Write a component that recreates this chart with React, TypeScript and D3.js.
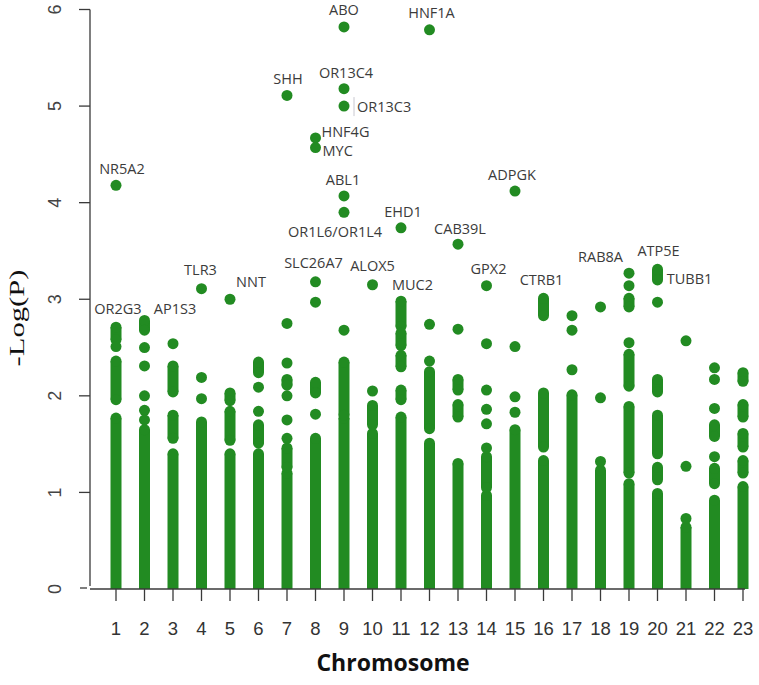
import React from 'react';
import * as d3 from 'd3';

// ---------------- data ----------------
const chromosomes = [1, 2, 3, 4, 5, 6, 7, 8, 9, 10, 11, 12, 13, 14, 15, 16, 17, 18, 19, 20, 21, 22, 23];
const yTicks = [0, 1, 2, 3, 4, 5, 6];

// top of the continuous (dense) column of SNPs for each chromosome
const denseTop = [1.77, 1.65, 1.40, 1.73, 1.40, 1.40, 1.20, 1.56, 1.77, 1.61, 1.78, 1.51, 1.30, 0.97, 1.65, 1.33, 2.01, 1.23, 1.09, 0.99, 0.64, 0.92, 1.06];

// semi-dense stretches: [chromosome, low, high]
const runs: [number, number, number][] = [
  [1, 2.58, 2.71], [1, 1.96, 2.36],
  [2, 2.68, 2.78],
  [3, 2.04, 2.31], [3, 1.56, 1.80],
  [5, 1.95, 2.03], [5, 1.54, 1.84],
  [6, 2.24, 2.35], [6, 1.51, 1.70],
  [7, 2.11, 2.17], [7, 1.26, 1.46],
  [8, 2.03, 2.14],
  [9, 1.80, 2.35],
  [10, 1.70, 1.90],
  [11, 2.72, 2.98], [11, 2.52, 2.65], [11, 2.30, 2.42], [11, 1.96, 2.06],
  [12, 1.66, 2.25],
  [13, 2.06, 2.17], [13, 1.78, 1.91],
  [14, 1.05, 1.37],
  [16, 2.83, 3.01], [16, 1.47, 2.03],
  [19, 2.92, 3.01], [19, 2.10, 2.43], [19, 1.20, 1.89],
  [20, 3.20, 3.31], [20, 2.04, 2.17], [20, 1.40, 1.80], [20, 1.13, 1.26],
  [22, 1.58, 1.70], [22, 1.09, 1.25],
  [23, 2.15, 2.24], [23, 1.78, 1.91], [23, 1.47, 1.61], [23, 1.20, 1.33],
];

// isolated points: [chromosome, -log(P)]
const points: [number, number][] = [
  [1, 4.18], [1, 2.51],
  [2, 2.50], [2, 2.31], [2, 2.00], [2, 1.85], [2, 1.75],
  [3, 2.54],
  [4, 3.11], [4, 2.19], [4, 1.97],
  [5, 3.00],
  [6, 2.09], [6, 1.84],
  [7, 5.11], [7, 2.75], [7, 2.34], [7, 2.00], [7, 1.75], [7, 1.56],
  [8, 4.67], [8, 4.57], [8, 3.18], [8, 2.97], [8, 1.81],
  [9, 5.82], [9, 5.18], [9, 5.00], [9, 4.07], [9, 3.90], [9, 2.68],
  [10, 3.15], [10, 2.05],
  [11, 3.74],
  [12, 5.79], [12, 2.74], [12, 2.36],
  [13, 3.57], [13, 2.69],
  [14, 3.14], [14, 2.54], [14, 2.06], [14, 1.86], [14, 1.71], [14, 1.46],
  [15, 4.12], [15, 2.51], [15, 1.99], [15, 1.83],
  [17, 2.83], [17, 2.68], [17, 2.27],
  [18, 2.92], [18, 1.98], [18, 1.32],
  [19, 3.27], [19, 3.14], [19, 2.55],
  [20, 2.97],
  [21, 2.57], [21, 1.27], [21, 0.73],
  [22, 2.29], [22, 2.17], [22, 1.87], [22, 1.37],
];

// gene annotations
const geneNames = ['NR5A2', 'OR2G3', 'AP1S3', 'TLR3', 'NNT', 'SHH', 'HNF4G', 'MYC', 'SLC26A7', 'ABO', 'OR13C4', 'OR13C3', 'ABL1', 'OR1L6/OR1L4', 'ALOX5', 'EHD1', 'MUC2', 'HNF1A', 'CAB39L', 'GPX2', 'ADPGK', 'CTRB1', 'RAB8A', 'ATP5E', 'TUBB1'];
const geneChr = [1, 1, 3, 4, 5, 7, 8, 8, 8, 9, 9, 9, 9, 9, 10, 11, 11, 12, 13, 14, 15, 16, 18, 20, 20];
const geneVal = [4.18, 2.71, 2.54, 3.11, 3.00, 5.11, 4.67, 4.57, 3.18, 5.82, 5.18, 5.00, 4.07, 3.90, 3.15, 3.74, 2.98, 5.79, 3.57, 3.14, 4.12, 3.01, 2.92, 3.31, 2.97];

// label placement relative to the labelled point (layout only)
const labelLayout: Record<string, { anchor: string; dx: number; dy: number }> = {
  'NR5A2': { anchor: 'middle', dx: 6, dy: -11 },
  'OR2G3': { anchor: 'middle', dx: 2, dy: -13 },
  'AP1S3': { anchor: 'middle', dx: 2, dy: -30 },
  'TLR3': { anchor: 'middle', dx: -1, dy: -14 },
  'NNT': { anchor: 'middle', dx: 21, dy: -12 },
  'SHH': { anchor: 'middle', dx: 1, dy: -11 },
  'HNF4G': { anchor: 'start', dx: 6, dy: -1 },
  'MYC': { anchor: 'start', dx: 7, dy: 8 },
  'SLC26A7': { anchor: 'middle', dx: -2, dy: -14 },
  'ABO': { anchor: 'middle', dx: 0, dy: -12 },
  'OR13C4': { anchor: 'middle', dx: 2, dy: -10.5 },
  'OR13C3': { anchor: 'start', dx: 13, dy: 6 },
  'ABL1': { anchor: 'middle', dx: -1, dy: -11 },
  'OR1L6/OR1L4': { anchor: 'middle', dx: -9, dy: 25 },
  'ALOX5': { anchor: 'middle', dx: 0, dy: -14 },
  'EHD1': { anchor: 'middle', dx: 2, dy: -11 },
  'MUC2': { anchor: 'start', dx: -9, dy: -11 },
  'HNF1A': { anchor: 'middle', dx: 2, dy: -11.5 },
  'CAB39L': { anchor: 'middle', dx: 2, dy: -10 },
  'GPX2': { anchor: 'middle', dx: 2, dy: -12 },
  'ADPGK': { anchor: 'middle', dx: -3, dy: -11 },
  'CTRB1': { anchor: 'middle', dx: -2, dy: -13 },
  'RAB8A': { anchor: 'middle', dx: 0, dy: -45 },
  'ATP5E': { anchor: 'middle', dx: 1, dy: -13 },
  'TUBB1': { anchor: 'middle', dx: 32, dy: -18 },
};

// ---------------- chart ----------------
const W = 759;
const H = 685;
const GREEN = '#228b22';
const R = 5.5;

export default function App() {
  const x = d3.scaleLinear().domain([1, 23]).range([116, 743]);
  const y = d3.scaleLinear().domain([0, 6]).range([589, 9.5]);
  const axisColor = '#3a3a3a';
  const axisX0 = 90;

  return (
    <svg width={W} height={H} style={{ position: 'absolute', left: 0, top: 0, background: '#fff' }}>
      <defs>
        <clipPath id="plotClip">
          <rect x={axisX0} y={0} width={W - axisX0} height={y(0)} />
        </clipPath>
      </defs>

      <g clipPath="url(#plotClip)" fill={GREEN}>
        {chromosomes.map((c, i) => (
          <g key={'d' + c}>
            <rect x={x(c) - R} y={y(denseTop[i])} width={2 * R} height={y(0) - y(denseTop[i]) + R} />
            <circle cx={x(c)} cy={y(denseTop[i])} r={R} />
          </g>
        ))}
        {runs.map(([c, lo, hi], i) => (
          <g key={'r' + i}>
            <rect x={x(c) - R} y={y(hi)} width={2 * R} height={y(lo) - y(hi)} />
            <circle cx={x(c)} cy={y(hi)} r={R} />
            <circle cx={x(c)} cy={y(lo)} r={R} />
          </g>
        ))}
        {points.map(([c, v], i) => (
          <circle key={'p' + i} cx={x(c)} cy={y(v)} r={R} />
        ))}
      </g>

      {/* faint artifact line next to OR13C3 */}
      <line x1={x(9) + 10} x2={x(9) + 10} y1={y(5.0) - 9} y2={y(5.0) + 10} stroke="#c8c8d0" strokeWidth={1} />

      {/* gene labels */}
      <g fontFamily="'Open Sans', 'Noto Sans', sans-serif" fontSize={14.5} fill="#3b3b3b">
        {geneNames.map((g, i) => {
          const L = labelLayout[g];
          return (
            <text key={g} x={x(geneChr[i]) + L.dx} y={y(geneVal[i]) + L.dy} textAnchor={L.anchor}>
              {g}
            </text>
          );
        })}
      </g>

      {/* axes */}
      <line x1={axisX0} x2={axisX0} y1={y(6)} y2={y(0) - 3} stroke={axisColor} strokeWidth={1.3} />
      <line x1={axisX0} x2={x(23) + 2} y1={y(0)} y2={y(0)} stroke={axisColor} strokeWidth={1.3} />
      {yTicks.map((t) => (
        <g key={'yt' + t}>
          <line x1={t === 0 ? 80 : 79} x2={t === 0 ? 87 : axisX0} y1={y(t) - (t === 0 ? 1 : 0)} y2={y(t) - (t === 0 ? 1 : 0)} stroke={axisColor} strokeWidth={1.3} />
          <text
            transform={`translate(55,${y(t)}) rotate(-90)`}
            textAnchor="middle"
            dominantBaseline="central"
            fontFamily="'Liberation Sans', Arial, sans-serif"
            fontSize={18}
            fill="#444"
          >
            {t}
          </text>
        </g>
      ))}
      {chromosomes.map((c) => (
        <g key={'xt' + c}>
          <line x1={x(c)} x2={x(c)} y1={y(0)} y2={y(0) + 12} stroke={axisColor} strokeWidth={1.3} />
          <text
            x={x(c)}
            y={635}
            textAnchor="middle"
            fontFamily="'Liberation Sans', Arial, sans-serif"
            fontSize={18.5}
            fill="#333"
          >
            {String(c)}
          </text>
        </g>
      ))}

      <text
        x={393}
        y={671}
        textAnchor="middle"
        fontFamily="'Open Sans', 'Noto Sans', sans-serif"
        fontWeight={700}
        fontSize={23}
        fill="#111"
      >
        Chromosome
      </text>
      <text
        transform={`translate(17,318) rotate(-90)`}
        textAnchor="middle"
        dominantBaseline="central"
        fontFamily="'Liberation Serif', 'Times New Roman', serif"
        fontSize={20}
        textLength={97}
        lengthAdjust="spacingAndGlyphs"
        fill="#111"
      >
        -Log(P)
      </text>
    </svg>
  );
}
